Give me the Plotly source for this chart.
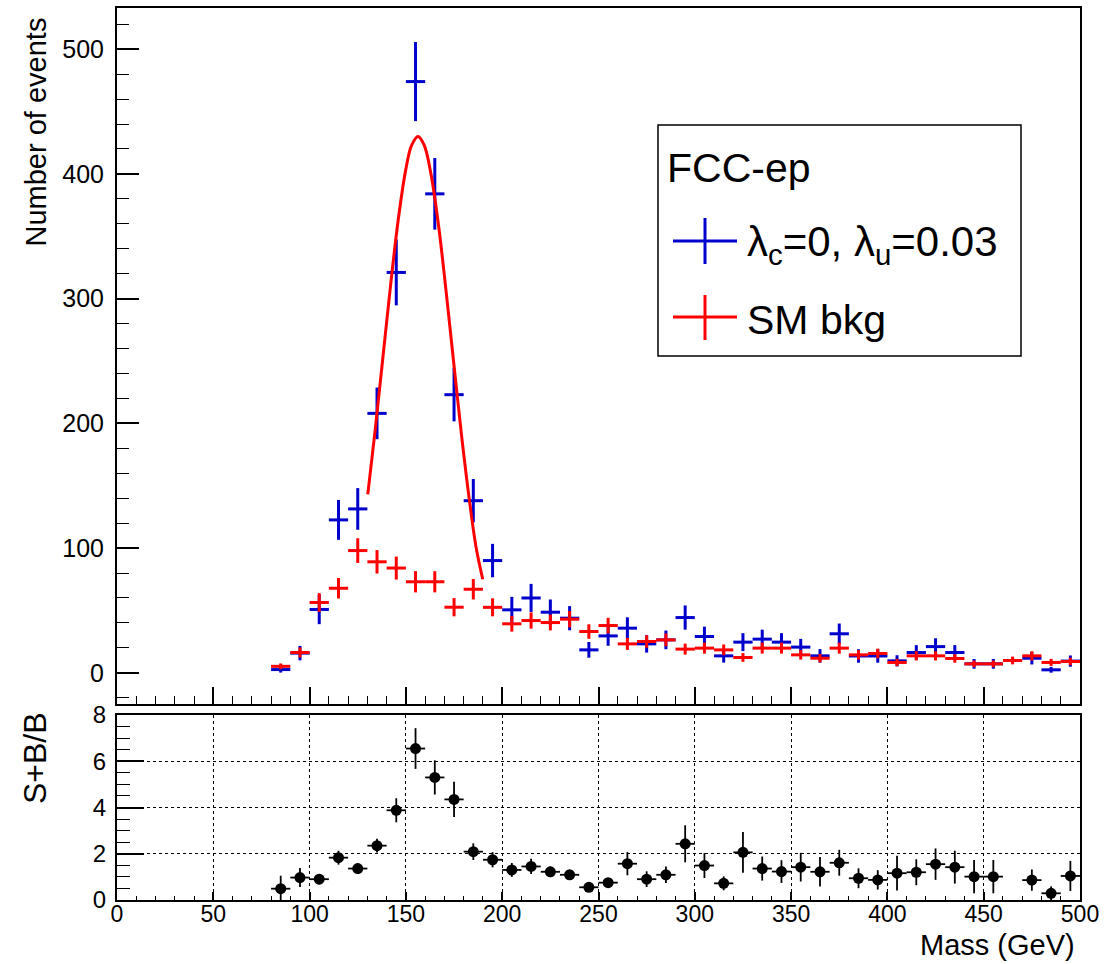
import plotly.graph_objects as go
from plotly.subplots import make_subplots

# Invariant-mass bin centres (GeV), 10 GeV bins
mass = [85, 95, 105, 115, 125, 135, 145, 155, 165, 175, 185, 195, 205, 215,
        225, 235, 245, 255, 265, 275, 285, 295, 305, 315, 325, 335, 345, 355,
        365, 375, 385, 395, 405, 415, 425, 435, 445, 455, 465, 475, 485, 495]
half_bin = [5] * len(mass)

# Signal + background (lambda_c = 0, lambda_u = 0.03)
sig = [2.6, 15.8, 50.8, 122.6, 131.4, 208, 321, 474, 384, 223, 138, 90, 50.5, 60,
       48.6, 43.8, 18.4, 29.6, 35.8, 23.2, 26.4, 44.3, 29.1, 13.6, 24.6, 27, 24.6, 20.6,
       13.6, 31.3, 13.5, 13.5, 9.6, 16.3, 21, 16.3, 7.2, 7.2, None, 11.7, 2.4, 9.4]
sig_err = [2.4, 5.8, 11.8, 16, 16.7, 20.7, 26.4, 31.7, 28.7, 21.4, 17.4, 13.4, 10.4, 11.3,
           10.2, 9.7, 6.3, 7.9, 8.7, 7.0, 7.5, 9.7, 7.9, 5.4, 7.2, 7.6, 7.2, 6.6,
           5.4, 8.2, 5.4, 5.4, 4.5, 5.9, 6.7, 5.9, 3.9, 3.9, None, 5.0, 2.3, 4.5]

# SM background
bkg = [5.2, 16.3, 56.4, 67.8, 98, 89, 84, 73, 73, 52.6, 67, 52.5, 39.3, 41.9,
       40.3, 43, 33.1, 37.9, 23.2, 25.1, 26.4, 19, 19.8, 18.4, 12.3, 19.8, 19.8, 14.4,
       11.7, 19.8, 14.4, 15.5, 8.3, 13.6, 13.6, 11.5, 7.2, 7.2, 9.9, 13.6, 8.3, 9.1]
bkg_err = [2.3, 4.0, 7.5, 8.2, 9.9, 9.4, 9.2, 8.5, 8.5, 7.3, 8.2, 7.2, 6.3, 6.5,
           6.3, 6.6, 5.8, 6.2, 4.8, 5.0, 5.1, 4.4, 4.4, 4.3, 3.5, 4.4, 4.4, 3.8,
           3.4, 4.4, 3.8, 3.9, 2.9, 3.7, 3.7, 3.4, 2.7, 2.7, 3.1, 3.7, 2.9, 3.0]

# Ratio (S+B)/B
ratio = [0.49, 0.97, 0.90, 1.83, 1.36, 2.35, 3.88, 6.55, 5.30, 4.35, 2.09, 1.74, 1.30, 1.45,
         1.22, 1.09, 0.55, 0.75, 1.57, 0.90, 1.09, 2.43, 1.49, 0.72, 2.06, 1.36, 1.23, 1.42,
         1.22, 1.61, 0.94, 0.87, 1.16, 1.20, 1.55, 1.42, 1.01, 1.01, None, 0.86, 0.29, 1.04]
ratio_err = [0.56, 0.41, 0.22, 0.30, 0.23, 0.30, 0.52, 0.88, 0.74, 0.76, 0.36, 0.33, 0.30, 0.33,
             0.23, 0.20, 0.20, 0.20, 0.50, 0.34, 0.36, 0.80, 0.54, 0.30, 0.88, 0.52, 0.49, 0.62,
             0.64, 0.56, 0.43, 0.42, 0.75, 0.56, 0.68, 0.71, 0.72, 0.72, None, 0.46, 0.30, 0.65]

# Gaussian fit curve, sampled along the peak
fit_x = [130.2, 134, 138, 142, 146, 150, 153, 156.3, 159.5, 163, 167, 171, 175, 179,
         183, 186.5, 189.9]
fit_y = [143, 194, 252, 310, 363, 404, 423, 430, 423, 400, 358, 304, 246, 189,
         138, 100, 75]

BLUE = "#0000cc"
RED = "#ff0000"
FONT = "Liberation Sans, Arial, Helvetica, sans-serif"

W, H = 1114, 964
L, R, T, B = 117, 34, 8, 64
PW, PH = W - L - R, H - T - B


def px_x(px):
    return (px - L) / PW


def px_y(py):
    return (H - B - py) / PH


fig = make_subplots(rows=2, cols=1, shared_xaxes=False, vertical_spacing=0.0)

fig.add_trace(go.Scatter(
    x=mass, y=sig, mode="markers", marker=dict(size=2, color=BLUE),
    error_x=dict(type="data", array=half_bin, width=0, thickness=3, color=BLUE),
    error_y=dict(type="data", array=sig_err, width=0, thickness=3, color=BLUE),
    showlegend=False, hoverinfo="skip"), row=1, col=1)

fig.add_trace(go.Scatter(
    x=mass, y=bkg, mode="markers", marker=dict(size=2, color=RED),
    error_x=dict(type="data", array=half_bin, width=0, thickness=3, color=RED),
    error_y=dict(type="data", array=bkg_err, width=0, thickness=3, color=RED),
    showlegend=False, hoverinfo="skip"), row=1, col=1)

fig.add_trace(go.Scatter(
    x=fit_x, y=fit_y, mode="lines", line=dict(color=RED, width=3, shape="spline"),
    showlegend=False, hoverinfo="skip"), row=1, col=1)

fig.add_trace(go.Scatter(
    x=mass, y=ratio, mode="markers", marker=dict(size=11, color="black"),
    error_x=dict(type="data", array=half_bin, width=0, thickness=1.8, color="black"),
    error_y=dict(type="data", array=ratio_err, width=0, thickness=1.8, color="black"),
    showlegend=False, hoverinfo="skip"), row=2, col=1)

axis_common = dict(showline=True, linecolor="black", linewidth=2, mirror=True,
                   ticks="inside", tickcolor="black", zeroline=False, automargin=False,
                   tickfont=dict(family=FONT, size=25, color="black"))

top_dom = [px_y(704), 1.0]
bot_dom = [0.0, px_y(715)]

fig.update_layout(
    width=W, height=H,
    margin=dict(l=L, r=R, t=T, b=B, pad=0, autoexpand=False),
    paper_bgcolor="white", plot_bgcolor="white",
    font=dict(family=FONT, color="black"),
    xaxis=dict(axis_common, domain=[0, 1], range=[0, 500], anchor="y",
               showticklabels=False, tickmode="linear", tick0=0, dtick=50,
               ticklen=17, tickwidth=1.5, showgrid=False,
               minor=dict(ticks="inside", ticklen=8, dtick=10, tickcolor="black",
                          tickwidth=1.2, showgrid=False)),
    yaxis=dict(axis_common, domain=top_dom, range=[-25, 533], anchor="x",
               tickmode="linear", tick0=0, dtick=100, ticklen=22, tickwidth=1.5,
               showgrid=False, ticklabelstandoff=6,
               minor=dict(ticks="inside", ticklen=12, dtick=20, tickcolor="black",
                          tickwidth=1.2, showgrid=False)),
    xaxis2=dict(axis_common, domain=[0, 1], range=[0, 500], anchor="y2",
                tickmode="linear", tick0=0, dtick=50, ticklen=8, tickwidth=1.5,
                showgrid=True, gridcolor="black", griddash="dot", gridwidth=1.3,
                ticklabelstandoff=-8,
                tickfont=dict(family=FONT, size=23, color="black"),
                minor=dict(ticks="inside", ticklen=4, dtick=10, tickcolor="black",
                           tickwidth=1.2, showgrid=False)),
    yaxis2=dict(axis_common, domain=bot_dom, range=[0, 8], anchor="x2",
                tickmode="linear", tick0=0, dtick=2, ticklen=27, tickwidth=1.5,
                showgrid=True, gridcolor="black", griddash="dot", gridwidth=1.3,
                ticklabelstandoff=4,
                tickfont=dict(family=FONT, size=24, color="black"),
                minor=dict(ticks="inside", ticklen=13, dtick=0.5, tickcolor="black",
                           tickwidth=1.2, showgrid=False)),
)

# Axis titles (ROOT style: y titles at the top, x title at the right)
ann = []
ann.append(dict(text="Number of events", xref="paper", yref="paper",
                x=px_x(35), y=px_y(16), xanchor="center", yanchor="top",
                textangle=-90, showarrow=False,
                font=dict(family=FONT, size=29, color="black")))
ann.append(dict(text="S+B/B", xref="paper", yref="paper",
                x=px_x(35), y=px_y(710), xanchor="center", yanchor="top",
                textangle=-90, showarrow=False,
                font=dict(family=FONT, size=32, color="black")))
ann.append(dict(text="Mass (GeV)", xref="paper", yref="paper",
                x=px_x(1077), y=px_y(945), xanchor="right", yanchor="middle",
                showarrow=False, font=dict(family=FONT, size=29, color="black")))

# Legend box
shapes = [dict(type="rect", xref="paper", yref="paper",
               x0=px_x(658), x1=px_x(1021), y0=px_y(356), y1=px_y(125),
               line=dict(color="black", width=1.5), fillcolor="white", layer="above")]
for col, cy, top, bot in [(BLUE, 241, 218, 264), (RED, 317, 295, 340)]:
    shapes.append(dict(type="line", xref="paper", yref="paper",
                       x0=px_x(673), x1=px_x(737), y0=px_y(cy), y1=px_y(cy),
                       line=dict(color=col, width=3), layer="above"))
    shapes.append(dict(type="line", xref="paper", yref="paper",
                       x0=px_x(705), x1=px_x(705), y0=px_y(top), y1=px_y(bot),
                       line=dict(color=col, width=3), layer="above"))

ann.append(dict(text="FCC-ep", xref="paper", yref="paper",
                x=px_x(665), y=px_y(168), xanchor="left", yanchor="middle",
                showarrow=False, font=dict(family=FONT, size=41, color="black")))
ann.append(dict(text="λ<sub>c</sub>=0, λ<sub>u</sub>=0.03", xref="paper", yref="paper",
                x=px_x(745), y=px_y(244), xanchor="left", yanchor="middle",
                showarrow=False, font=dict(family=FONT, size=42, color="black")))
ann.append(dict(text="SM bkg", xref="paper", yref="paper",
                x=px_x(745), y=px_y(320), xanchor="left", yanchor="middle",
                showarrow=False, font=dict(family=FONT, size=41, color="black")))

fig.update_layout(annotations=ann, shapes=shapes)

fig.write_html("out.html")
